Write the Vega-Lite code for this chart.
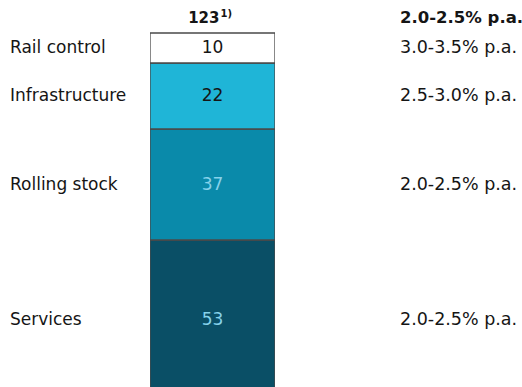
{
  "$schema": "https://vega.github.io/schema/vega-lite/v6.json",
  "background": "white",
  "padding": {"left": 10, "top": 0, "right": 0, "bottom": 0},
  "bounds": "flush",
  "config": {"view": {"stroke": null}},
  "datasets": {
    "segments": [
      {"segment": "Services", "value": 53, "growth": "2.0-2.5% p.a.", "order": 1},
      {"segment": "Rolling stock", "value": 37, "growth": "2.0-2.5% p.a.", "order": 2},
      {"segment": "Infrastructure", "value": 22, "growth": "2.5-3.0% p.a.", "order": 3},
      {"segment": "Rail control", "value": 10, "growth": "3.0-3.5% p.a.", "order": 4}
    ],
    "total": [
      {"total": 123, "note": "1)", "growth": "2.0-2.5% p.a."}
    ]
  },
  "spacing": 125,
  "hconcat": [
    {
      "width": 15,
      "height": 387,
      "data": {"name": "segments"},
      "transform": [
        {"stack": "value", "sort": [{"field": "order"}], "as": ["v0", "v1"]},
        {"calculate": "(datum.v0 + datum.v1) / 2", "as": "mid"}
      ],
      "mark": {"type": "text", "align": "left", "baseline": "middle", "font": "DejaVu Sans", "fontSize": 17, "color": "#151515"},
      "encoding": {
        "x": {"value": 0},
        "y": {"field": "mid", "type": "quantitative", "scale": {"domain": [4, 133], "nice": false, "zero": false}, "axis": null},
        "text": {"field": "segment"}
      }
    },
    {
      "width": 125,
      "height": 387,
      "layer": [
        {
          "data": {"name": "segments"},
          "transform": [
            {"stack": "value", "sort": [{"field": "order"}], "as": ["v0", "v1"]}
          ],
          "mark": {"type": "bar", "clip": true, "stroke": "#4a4a4a", "strokeWidth": 1.3},
          "encoding": {
            "x": {"datum": "share", "type": "nominal", "scale": {"paddingInner": 0, "paddingOuter": 0}, "axis": null},
            "y": {"field": "v0", "type": "quantitative", "scale": {"domain": [4, 133], "nice": false, "zero": false}, "axis": null},
            "y2": {"field": "v1"},
            "color": {
              "field": "segment",
              "type": "nominal",
              "scale": {
                "domain": ["Rail control", "Infrastructure", "Rolling stock", "Services"],
                "range": ["#ffffff", "#1fb5d7", "#0a8aaa", "#0a4f66"]
              },
              "legend": null
            }
          }
        },
        {
          "data": {"name": "segments"},
          "transform": [
            {"stack": "value", "sort": [{"field": "order"}], "as": ["v0", "v1"]},
            {"calculate": "(datum.v0 + datum.v1) / 2", "as": "mid"}
          ],
          "mark": {"type": "text", "baseline": "middle", "font": "DejaVu Sans", "fontSize": 17},
          "encoding": {
            "x": {"datum": "share", "type": "nominal"},
            "y": {"field": "mid", "type": "quantitative", "scale": {"domain": [4, 133], "nice": false, "zero": false}},
            "text": {"field": "value"},
            "color": {
              "condition": {"test": "datum.value > 30", "value": "#86d2ea"},
              "value": "#151515"
            }
          }
        },
        {
          "data": {"name": "total"},
          "mark": {"type": "text", "align": "right", "baseline": "alphabetic", "dx": 7, "dy": -7, "font": "DejaVu Sans", "fontWeight": "bold", "fontSize": 15, "color": "#151515"},
          "encoding": {
            "x": {"datum": "share", "type": "nominal"},
            "y": {"field": "total", "type": "quantitative", "scale": {"domain": [4, 133], "nice": false, "zero": false}},
            "text": {"field": "total"}
          }
        },
        {
          "data": {"name": "total"},
          "mark": {"type": "text", "align": "left", "baseline": "alphabetic", "dx": 8, "dy": -13, "font": "DejaVu Sans", "fontWeight": "bold", "fontSize": 10, "color": "#151515"},
          "encoding": {
            "x": {"datum": "share", "type": "nominal"},
            "y": {"field": "total", "type": "quantitative", "scale": {"domain": [4, 133], "nice": false, "zero": false}},
            "text": {"field": "note"}
          }
        }
      ]
    },
    {
      "width": 122,
      "height": 387,
      "layer": [
        {
          "data": {"name": "segments"},
          "transform": [
            {"stack": "value", "sort": [{"field": "order"}], "as": ["v0", "v1"]},
            {"calculate": "(datum.v0 + datum.v1) / 2", "as": "mid"}
          ],
          "mark": {"type": "text", "align": "left", "baseline": "middle", "font": "DejaVu Sans", "fontSize": 17.5, "color": "#151515"},
          "encoding": {
            "x": {"value": 0},
            "y": {"field": "mid", "type": "quantitative", "scale": {"domain": [4, 133], "nice": false, "zero": false}, "axis": null},
            "text": {"field": "growth"}
          }
        },
        {
          "data": {"name": "total"},
          "mark": {"type": "text", "align": "left", "baseline": "alphabetic", "dy": -7, "font": "DejaVu Sans", "fontWeight": "bold", "fontSize": 16.5, "color": "#151515"},
          "encoding": {
            "x": {"value": 0},
            "y": {"field": "total", "type": "quantitative", "scale": {"domain": [4, 133], "nice": false, "zero": false}},
            "text": {"field": "growth"}
          }
        }
      ]
    }
  ]
}
